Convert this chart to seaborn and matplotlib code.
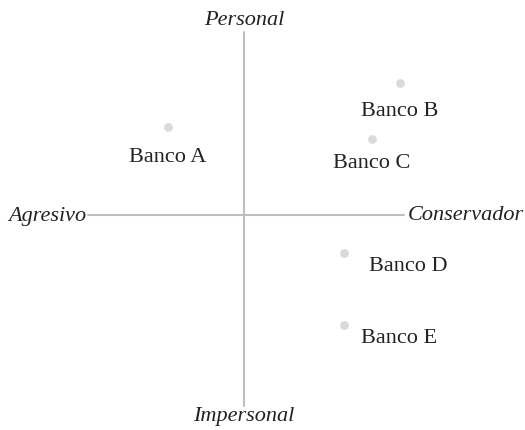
import matplotlib
matplotlib.use("Agg")
import matplotlib.pyplot as plt
import seaborn as sns
import pandas as pd

# --- datos del mapa de posicionamiento ---
bancos = ["Banco A", "Banco B", "Banco C", "Banco D", "Banco E"]
eje_x = [-1.9, 3.9, 3.2, 2.5, 2.5]      # Agresivo (-) / Conservador (+)
eje_y = [2.2, 3.3, 1.9, -0.95, -2.75]   # Impersonal (-) / Personal (+)

df = pd.DataFrame({"Banco": bancos, "x": eje_x, "y": eje_y})

sns.set_theme(style="white")
plt.rcParams["font.family"] = ["Liberation Serif", "DejaVu Serif"]

fig = plt.figure(figsize=(5.25, 4.31), dpi=100)
ax = fig.add_axes([0, 0, 1, 1])

# ejes cruzados
color_eje = "#bdbdc2"
ax.plot([-3.9, 4.0], [0, 0], color=color_eje, lw=1.5, zorder=1)
ax.plot([0, 0], [-4.775, 4.575], color=color_eje, lw=1.5, zorder=1)

sns.scatterplot(data=df, x="x", y="y", ax=ax, color="#dadada", s=40,
                linewidth=0, zorder=3, legend=False)

ax.set_xlim(-6.1, 7.025)
ax.set_ylim(-5.375, 5.4)

# desplazamiento de cada etiqueta (puntos)
offsets = {"Banco A": (0, -21), "Banco B": (0, -20), "Banco C": (0, -17),
           "Banco D": (46, -9), "Banco E": (40, -9)}
for _, r in df.iterrows():
    ax.annotate(r["Banco"], (r["x"], r["y"]), xytext=offsets[r["Banco"]],
                textcoords="offset points", ha="center", va="center",
                fontsize=16, color="#222222")

# etiquetas de los ejes
kw = dict(fontsize=16, style="italic", color="#222222", va="center")
ax.text(-3.95, 0, "Agresivo", ha="right", **kw)
ax.text(4.1, 0, "Conservador", ha="left", **kw)
ax.text(0, 4.9, "Personal", ha="center", **kw)
ax.text(0, -5.02, "Impersonal", ha="center", **kw)

ax.set_axis_off()
fig.savefig("out.png", dpi=100)
